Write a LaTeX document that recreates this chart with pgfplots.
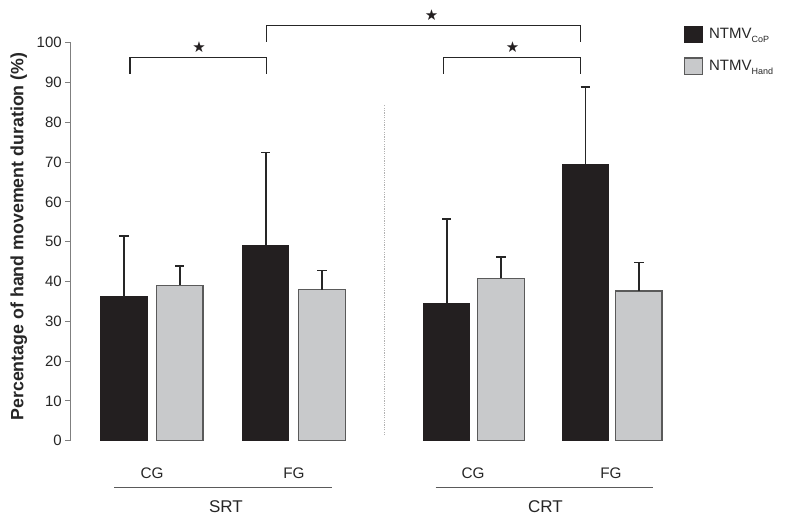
\documentclass[border=0pt]{standalone}
\usepackage{pgfplots}
\pgfplotsset{compat=1.18}
\usepackage{fontspec}
\setmainfont{Liberation Sans}
\newfontfamily\sym{DejaVu Sans}
\definecolor{barblack}{HTML}{231F20}
\definecolor{bargray}{HTML}{C8C9CB}
\definecolor{edgegray}{HTML}{5A5A5A}
\definecolor{axgray}{HTML}{7F7F7F}
\definecolor{txt}{HTML}{262626}
\begin{document}
\begin{tikzpicture}
\useasboundingbox (0,0) rectangle (786pt,523pt);
\begin{axis}[
  at={(70.7pt,82.3pt)}, anchor=south west,
  scale only axis, width=610pt, height=398pt,
  xmin=70.7, xmax=680.7, ymin=0, ymax=100,
  clip=false,
  axis x line=none, axis y line*=left,
  y axis line style={draw=axgray, line width=0.9pt},
  ytick={0,10,...,100},
  tick align=outside, major tick length=5.5pt,
  ytick style={draw=axgray, line width=0.9pt},
  /pgf/number format/assume math mode=true,
  yticklabel style={font=\fontsize{15}{18}\selectfont, text=txt, inner sep=0pt, anchor=east, xshift=-3.3pt},
  ylabel={Percentage of hand movement duration (\%)},
  ylabel style={font=\fontsize{17.8}{21}\selectfont\bfseries, text=txt, at={(axis description cs:-0.0852,0.513)}, anchor=center},
  legend style={at={(axis cs:684,104.3)}, anchor=north west, draw=none, fill=none,
    inner sep=0pt, row sep=14pt, column sep=0pt,
    font=\fontsize{15}{18}\selectfont, text=txt,
    nodes={inner sep=0pt}},
  legend cell align=left,
  legend image code/.code={\draw[#1] (0pt,-8.3pt) rectangle (17.6pt,8.3pt);},
]
\addplot[ybar, bar width=46.5, bar shift=0, fill=barblack, draw=barblack, line width=1pt,
  error bars/.cd, y dir=plus, y explicit,
  error bar style={line width=1.6pt, draw=txt},
  error mark options={rotate=90, mark size=4.7pt, line width=1.6pt, draw=txt}]
  coordinates {(124,36.2) +- (0,15.2) (265.7,49.1) +- (0,23.3) (446.7,34.5) +- (0,21.2) (585.3,69.4) +- (0,19.4)};
\addlegendentry{\hspace{6pt}NTMV\raisebox{-3.8pt}{\fontsize{9}{10}\selectfont CoP}}
\addplot[ybar, bar width=46.5, bar shift=0, fill=bargray, draw=edgegray, line width=1.2pt,
  error bars/.cd, y dir=plus, y explicit,
  error bar style={line width=1.6pt, draw=txt},
  error mark options={rotate=90, mark size=4.7pt, line width=1.6pt, draw=txt}]
  coordinates {(179.7,39.0) +- (0,4.9) (322,37.9) +- (0,4.9) (501,40.8) +- (0,5.4) (638.8,37.6) +- (0,7.2)};
\addlegendentry{\hspace{6pt}NTMV\raisebox{-3.8pt}{\fontsize{9}{10}\selectfont Hand}}
% significance brackets
\addplot[forget plot, sharp plot, no marks, draw=txt, line width=1.3pt]
  coordinates {(130,92.2) (130,96.2) (266.7,96.2) (266.7,92.2)};
\addplot[forget plot, sharp plot, no marks, draw=txt, line width=1.3pt]
  coordinates {(266.7,100.2) (266.7,104.3) (580.3,104.3) (580.3,100.2)};
\addplot[forget plot, sharp plot, no marks, draw=txt, line width=1.3pt]
  coordinates {(443.7,92.2) (443.7,96.2) (580.3,96.2) (580.3,92.2)};
% separator
\addplot[forget plot, sharp plot, no marks, draw=gray!60, line width=0.7pt, dash pattern=on 1.2pt off 1.2pt]
  coordinates {(384.3,1.4) (384.3,84.3)};
\node[text=barblack] at (axis cs:199,98.8) {\sym\fontsize{15}{16}\selectfont ★};
\node[text=barblack] at (axis cs:431.7,107) {\sym\fontsize{15}{16}\selectfont ★};
\node[text=barblack] at (axis cs:512.7,99.0) {\sym\fontsize{15}{16}\selectfont ★};
% group labels
\begin{scope}[every node/.style={text=txt, anchor=base, inner sep=0pt}]
\node[font=\fontsize{15.3}{18}\selectfont] at (axis cs:152,-9.57) {CG};
\node[font=\fontsize{15.3}{18}\selectfont] at (axis cs:294,-9.57) {FG};
\node[font=\fontsize{15.3}{18}\selectfont] at (axis cs:473,-9.57) {CG};
\node[font=\fontsize{15.3}{18}\selectfont] at (axis cs:611,-9.57) {FG};
\node[font=\fontsize{17}{20}\selectfont] at (axis cs:226,-18.0) {SRT};
\node[font=\fontsize{17}{20}\selectfont] at (axis cs:545.5,-18.0) {CRT};
\end{scope}
\draw[edgegray, line width=1.3pt] (axis cs:114,-11.8) -- (axis cs:331.7,-11.8);
\draw[edgegray, line width=1.3pt] (axis cs:435.7,-11.8) -- (axis cs:653.3,-11.8);
\end{axis}
\end{tikzpicture}
\end{document}
